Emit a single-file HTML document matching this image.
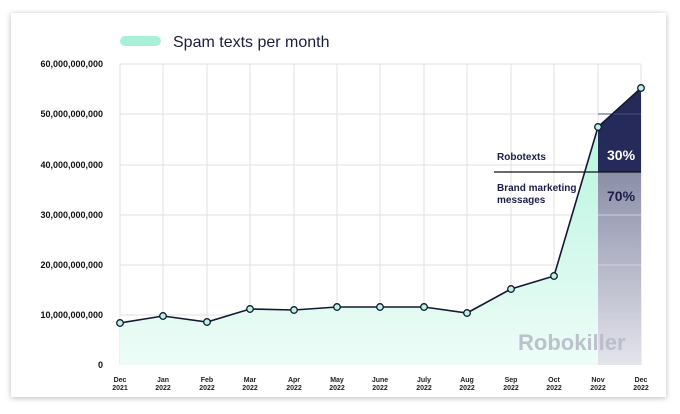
<!DOCTYPE html>
<html><head><style>
body{margin:0;background:#fff;}
</style></head><body>
<svg width="680" height="409" xmlns="http://www.w3.org/2000/svg" font-family="Liberation Sans, sans-serif">
<defs>
<filter id="sh" x="-5%" y="-5%" width="110%" height="110%"><feGaussianBlur stdDeviation="3"/></filter>
<linearGradient id="ar" x1="0" y1="0" x2="0" y2="1"><stop offset="0" stop-color="#b8f5e0"/><stop offset="1" stop-color="#eefcf7"/></linearGradient>
<linearGradient id="gr" x1="0" y1="0" x2="0" y2="1"><stop offset="0" stop-color="#8a8ea8"/><stop offset="1" stop-color="#e4e4ec"/></linearGradient>
</defs>
<rect x="11" y="14" width="655" height="384" fill="#bbb" filter="url(#sh)"/>
<rect x="11" y="13" width="655" height="384" fill="#fff"/>
<g stroke="#e2e2e2" stroke-width="1">
<line x1="120" y1="64" x2="641" y2="64"/><line x1="120" y1="114" x2="641" y2="114"/><line x1="120" y1="165" x2="641" y2="165"/><line x1="120" y1="215" x2="641" y2="215"/><line x1="120" y1="265" x2="641" y2="265"/><line x1="120" y1="315" x2="641" y2="315"/>
<line x1="120" y1="64" x2="120" y2="365"/><line x1="163" y1="64" x2="163" y2="365"/><line x1="207" y1="64" x2="207" y2="365"/><line x1="250" y1="64" x2="250" y2="365"/><line x1="294" y1="64" x2="294" y2="365"/><line x1="337" y1="64" x2="337" y2="365"/><line x1="380" y1="64" x2="380" y2="365"/><line x1="424" y1="64" x2="424" y2="365"/><line x1="467" y1="64" x2="467" y2="365"/><line x1="511" y1="64" x2="511" y2="365"/><line x1="554" y1="64" x2="554" y2="365"/><line x1="598" y1="64" x2="598" y2="365"/><line x1="641" y1="64" x2="641" y2="365"/>
</g>
<polygon points="120,323 163,316 207,322 250,309 294,310 337,307 380,307 424,307 467,313 511,289 554,276 598,127 598,365 120,365" fill="url(#ar)"/>
<rect x="598" y="172" width="43" height="193" fill="url(#gr)"/>
<polygon points="598,127 641,88 641,172 598,172" fill="#252a5a"/>
<line x1="598" y1="114" x2="641" y2="114" stroke="#4a4f78" stroke-width="1"/>
<line x1="598" y1="215" x2="641" y2="215" stroke="#d0d0da"/><line x1="598" y1="265" x2="641" y2="265" stroke="#d0d0da"/><line x1="598" y1="315" x2="641" y2="315" stroke="#d0d0da"/>
<line x1="494" y1="172" x2="641" y2="172" stroke="#111" stroke-width="1.3"/>
<polyline points="120,323 163,316 207,322 250,309 294,310 337,307 380,307 424,307 467,313 511,289 554,276 598,127 641,88" fill="none" stroke="#141833" stroke-width="1.6"/>
<g fill="#b8f5e0" stroke="#141833" stroke-width="1.3">
<circle cx="120" cy="323" r="3.3"/><circle cx="163" cy="316" r="3.3"/><circle cx="207" cy="322" r="3.3"/><circle cx="250" cy="309" r="3.3"/><circle cx="294" cy="310" r="3.3"/><circle cx="337" cy="307" r="3.3"/><circle cx="380" cy="307" r="3.3"/><circle cx="424" cy="307" r="3.3"/><circle cx="467" cy="313" r="3.3"/><circle cx="511" cy="289" r="3.3"/><circle cx="554" cy="276" r="3.3"/><circle cx="598" cy="127" r="3.3"/><circle cx="641" cy="88" r="3.3"/>
</g>
<text x="497" y="160" font-size="10" font-weight="bold" fill="#1a1f4a">Robotexts</text>
<text x="497" y="191" font-size="10" font-weight="bold" fill="#1a1f4a">Brand marketing</text>
<text x="497" y="203" font-size="10" font-weight="bold" fill="#1a1f4a">messages</text>
<text x="607" y="160" font-size="14" font-weight="bold" fill="#fff">30%</text>
<text x="607" y="201" font-size="14" font-weight="bold" fill="#1a1f4a">70%</text>
<text x="518" y="350" font-size="22" font-weight="bold" fill="#b8bcc8" opacity="0.9">Robokiller</text>
<rect x="120" y="36" width="41" height="10" rx="5" fill="#a8f0d8"/>
<text x="173" y="47" font-size="16" fill="#1a1f3d">Spam texts per month</text>
<g font-size="9" font-weight="bold" fill="#111" text-anchor="end">
<text x="103" y="67">60,000,000,000</text><text x="103" y="117">50,000,000,000</text><text x="103" y="168">40,000,000,000</text><text x="103" y="218">30,000,000,000</text><text x="103" y="268">20,000,000,000</text><text x="103" y="318">10,000,000,000</text><text x="103" y="368">0</text>
</g>
<g font-size="7" font-weight="bold" fill="#222" text-anchor="middle">
<text x="120" y="382">Dec</text><text x="120" y="390">2021</text>
<text x="163" y="382">Jan</text><text x="163" y="390">2022</text>
<text x="207" y="382">Feb</text><text x="207" y="390">2022</text>
<text x="250" y="382">Mar</text><text x="250" y="390">2022</text>
<text x="294" y="382">Apr</text><text x="294" y="390">2022</text>
<text x="337" y="382">May</text><text x="337" y="390">2022</text>
<text x="380" y="382">June</text><text x="380" y="390">2022</text>
<text x="424" y="382">July</text><text x="424" y="390">2022</text>
<text x="467" y="382">Aug</text><text x="467" y="390">2022</text>
<text x="511" y="382">Sep</text><text x="511" y="390">2022</text>
<text x="554" y="382">Oct</text><text x="554" y="390">2022</text>
<text x="598" y="382">Nov</text><text x="598" y="390">2022</text>
<text x="641" y="382">Dec</text><text x="641" y="390">2022</text>
</g>
</svg>
</body></html>
